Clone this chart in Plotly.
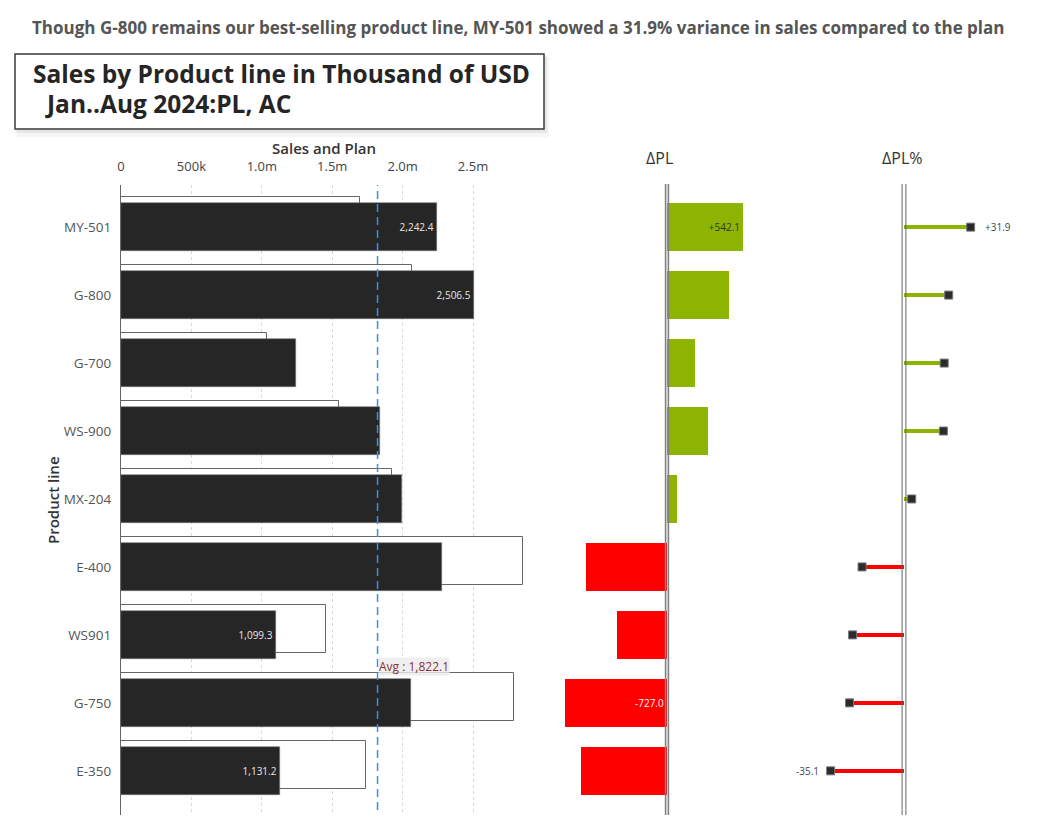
import plotly.graph_objects as go

W, H = 1048, 831

products = ["MY-501", "G-800", "G-700", "WS-900", "MX-204", "E-400", "WS901", "G-750", "E-350"]
ac = [2242.4, 2506.5, 1240.0, 1842.0, 1996.0, 2279.5, 1099.3, 2062.0, 1131.2]
pl = [1700.3, 2065.0, 1040.0, 1550.0, 1925.0, 2852.0, 1458.0, 2789.0, 1743.0]
ac_label_show = [True, True, False, False, False, False, True, False, True]
tick_vals = [0, 500, 1000, 1500, 2000, 2500]
tick_text = ["0", "500k", "1.0m", "1.5m", "2.0m", "2.5m"]

dpl = [a - p for a, p in zip(ac, pl)]
dplp = [(a - p) / p * 100 for a, p in zip(ac, pl)]
avg = sum(ac) / len(ac)
ypos = list(range(len(products)))

GREEN = "#8cb400"
RED = "#ff0000"
DARK = "#262626"
FONT = "Open Sans"


def px(x):
    return x / W


def py(y):
    return 1 - y / H


fig = go.Figure()

# Plan (outlined) bars
fig.add_trace(go.Bar(
    y=ypos, x=pl, orientation="h", width=0.7, offset=-0.44,
    marker=dict(color="white", line=dict(color="#666666", width=1)),
    xaxis="x", yaxis="y", hoverinfo="x+y", showlegend=False,
))
# Actual bars
fig.add_trace(go.Bar(
    y=ypos, x=ac, orientation="h", width=0.7, offset=-0.35,
    marker=dict(color=DARK, line=dict(color="#777777", width=0.6)),
    text=[f"{v:,.1f}" if s else "" for v, s in zip(ac, ac_label_show)],
    textposition="inside", insidetextanchor="end", textangle=0,
    textfont=dict(family=FONT, size=10, color="#e6e6e6"),
    xaxis="x", yaxis="y", showlegend=False,
))

# Delta PL bars
imax = max(range(len(dpl)), key=lambda i: dpl[i])
imin = min(range(len(dpl)), key=lambda i: dpl[i])
pos_idx = [i for i in ypos if dpl[i] >= 0]
neg_idx = [i for i in ypos if dpl[i] < 0]
fig.add_trace(go.Bar(
    y=[ypos[i] for i in pos_idx], x=[dpl[i] for i in pos_idx], orientation="h",
    width=0.7, offset=-0.35, marker=dict(color=GREEN, line=dict(width=0)),
    text=[f"+{dpl[i]:,.1f}" if i == imax else "" for i in pos_idx],
    textposition="inside", insidetextanchor="end", textangle=0,
    textfont=dict(family=FONT, size=10, color="#333333"),
    xaxis="x2", yaxis="y", showlegend=False,
))
fig.add_trace(go.Bar(
    y=[ypos[i] for i in neg_idx], x=[dpl[i] for i in neg_idx], orientation="h",
    width=0.7, offset=-0.35, marker=dict(color=RED, line=dict(width=0)),
    text=[f"{dpl[i]:,.1f}" if i == imin else "" for i in neg_idx],
    textposition="inside", insidetextanchor="start", textangle=0,
    textfont=dict(family=FONT, size=10, color="#f5f5f5"),
    xaxis="x2", yaxis="y", showlegend=False,
))

# Delta PL % lollipops
jmax = max(range(len(dplp)), key=lambda i: dplp[i])
jmin = min(range(len(dplp)), key=lambda i: dplp[i])
fig.add_trace(go.Bar(
    y=ypos, x=dplp, orientation="h", width=0.068, offset=-0.034,
    marker=dict(color=[GREEN if v >= 0 else RED for v in dplp], line=dict(width=0)),
    xaxis="x3", yaxis="y", showlegend=False, hoverinfo="skip",
))
fig.add_trace(go.Scatter(
    y=ypos, x=dplp, mode="markers",
    marker=dict(symbol="square", size=8, color="#2b2b2b", line=dict(color="#777777", width=1)),
    xaxis="x3", yaxis="y", showlegend=False, cliponaxis=False,
))

ydom = [py(815), py(185)]
yrange = [8.65, -0.62]
scale1 = 0.1408  # px per thousand
x1_dom = [px(121), px(545)]
x2_dom = [px(555), px(790)]
x3_dom = [px(795), px(1045)]
pct_scale = 2.09

fig.update_layout(
    width=W, height=H,
    margin=dict(l=0, r=0, t=0, b=0),
    paper_bgcolor="white", plot_bgcolor="white",
    barmode="overlay", bargap=0,
    font=dict(family=FONT, color="#333333"),
    yaxis=dict(
        domain=ydom, range=yrange, tickvals=ypos, ticktext=products,
        showline=True, linecolor="#666666", linewidth=1.2, showgrid=False,
        zeroline=False, ticks="", ticklabelstandoff=6,
        tickfont=dict(family=FONT, size=13.5, color="#555555"),
        anchor="x", automargin=False, fixedrange=True,
    ),
    xaxis=dict(
        domain=x1_dom, range=[0, (545 - 121) / scale1], side="top",
        tickvals=tick_vals, ticktext=tick_text, ticks="",
        ticklabelstandoff=10,
        tickfont=dict(family=FONT, size=13, color="#444444"),
        showgrid=True, gridcolor="#d9d9d9", griddash="dot", gridwidth=1,
        zeroline=False, showline=False, anchor="y", automargin=False,
    ),
    xaxis2=dict(
        domain=x2_dom, range=[(555 - 667) / scale1, (790 - 667) / scale1],
        showticklabels=False, showgrid=False, zeroline=False, showline=False,
        anchor="y", automargin=False,
    ),
    xaxis3=dict(
        domain=x3_dom, range=[(795 - 904) / pct_scale, (1045 - 904) / pct_scale],
        showticklabels=False, showgrid=False, zeroline=False, showline=False,
        anchor="y", automargin=False,
    ),
)

shapes = []
# Title box shadow + box
shapes.append(dict(type="rect", xref="paper", yref="paper",
                   x0=px(17), x1=px(549), y0=py(137), y1=py(57),
                   fillcolor="rgba(0,0,0,0.04)", line=dict(width=0), layer="below"))
shapes.append(dict(type="rect", xref="paper", yref="paper",
                   x0=px(16), x1=px(547), y0=py(133), y1=py(56),
                   fillcolor="rgba(0,0,0,0.06)", line=dict(width=0), layer="below"))
shapes.append(dict(type="rect", xref="paper", yref="paper",
                   x0=px(15), x1=px(544), y0=py(129), y1=py(54),
                   fillcolor="white", line=dict(color="#3a3a3a", width=1.5), layer="below"))
# Average line
shapes.append(dict(type="line", xref="x", yref="paper", x0=avg, x1=avg,
                   y0=py(810), y1=py(185),
                   line=dict(color="#3d8fe6", width=1.5, dash="8px,5px"), layer="above"))
# Double baselines
for xr, offs, col, wd in (("x2", (-1.4, 1.4), "#808080", 1.6), ("x3", (-1.9, 1.9), "#666666", 1.0)):
    for o in offs:
        shapes.append(dict(type="line", xref=xr, yref="paper", xsizemode="pixel", xanchor=0,
                           x0=o, x1=o, y0=py(815), y1=py(184),
                           line=dict(color=col, width=wd), layer="above"))
fig.update_layout(shapes=shapes)

annotations = [
    dict(text="Though G-800 remains our best-selling product line, MY-501 showed a 31.9% variance in sales compared to the plan",
         x=px(518), y=py(28), xref="paper", yref="paper", xanchor="center", yanchor="middle",
         showarrow=False, font=dict(family=FONT, size=17, color="#555555", weight=700)),
    dict(text="Sales by Product line in Thousand of USD",
         x=px(31), y=py(74), xref="paper", yref="paper", xanchor="left", yanchor="middle",
         showarrow=False, font=dict(family=FONT, size=24.5, color="#252525", weight=700)),
    dict(text="Jan..Aug 2024:PL, AC",
         x=px(43), y=py(103), xref="paper", yref="paper", xanchor="left", yanchor="middle",
         showarrow=False, font=dict(family=FONT, size=24.5, color="#252525", weight=700)),
    dict(text="Sales and Plan",
         x=px(324), y=py(148), xref="paper", yref="paper", xanchor="center", yanchor="middle",
         showarrow=False, font=dict(family=FONT, size=15, color="#333333", weight=600)),
    dict(text="ΔPL",
         x=px(659), y=py(158), xref="paper", yref="paper", xanchor="center", yanchor="middle",
         showarrow=False, font=dict(family=FONT, size=16, color="#333333")),
    dict(text="ΔPL%",
         x=px(902), y=py(158), xref="paper", yref="paper", xanchor="center", yanchor="middle",
         showarrow=False, font=dict(family=FONT, size=16, color="#333333")),
    dict(text="Product line", textangle=-90,
         x=px(53), y=py(500), xref="paper", yref="paper", xanchor="center", yanchor="middle",
         showarrow=False, font=dict(family=FONT, size=15, color="#333333", weight=600)),
    dict(text=f"Avg : {avg:,.1f}",
         x=avg, y=6.47, xref="x", yref="y", xanchor="left", yanchor="middle",
         showarrow=False, bgcolor="rgba(235,235,235,0.8)", borderpad=0,
         font=dict(family=FONT, size=12, color="#8b3030")),
]
# Delta PL % value labels (max and min)
for j in (jmax, jmin):
    v = dplp[j]
    annotations.append(dict(
        text=(f"+{v:.1f}" if v >= 0 else f"{v:.1f}"),
        x=v, y=ypos[j], xref="x3", yref="y",
        xanchor="left" if v >= 0 else "right", yanchor="middle",
        xshift=12 if v >= 0 else -10, showarrow=False,
        font=dict(family=FONT, size=10, color="#444444"),
    ))
fig.update_layout(annotations=annotations)

fig.write_html("out.html")
